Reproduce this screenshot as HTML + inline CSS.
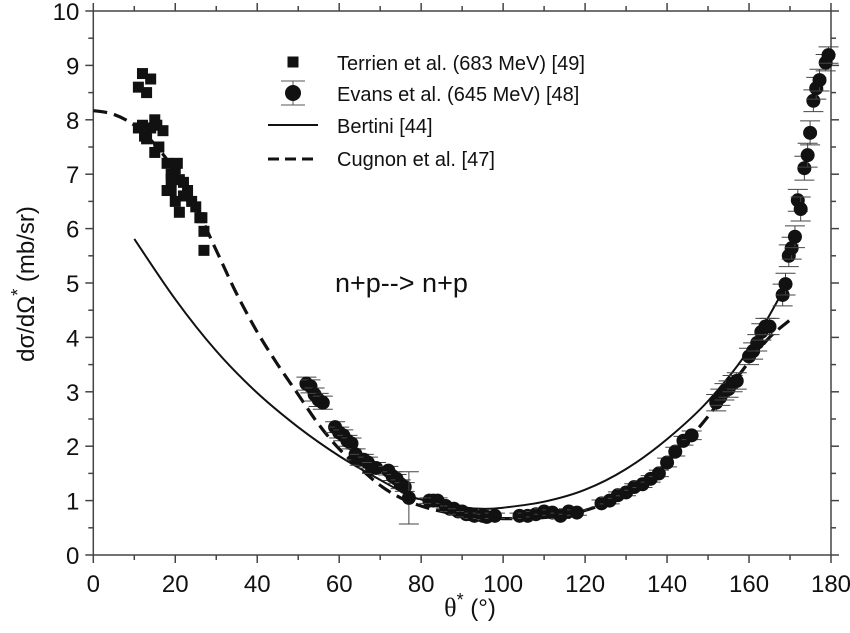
<!DOCTYPE html>
<html><head><meta charset="utf-8"><style>
body{margin:0;background:#fff;width:850px;height:628px;overflow:hidden}
svg{font-family:"Liberation Sans",sans-serif}
</style></head><body>
<svg id="chart" width="850" height="628" viewBox="0 0 850 628" xmlns="http://www.w3.org/2000/svg">
<g id="axes"></g>
<g id="curves"></g>
<g id="marks"></g>
<g font-size="20" fill="#111">
  <rect x="287.5" y="56.5" width="11" height="11" fill="#111"/>
  <text x="337" y="70">Terrien et al. (683 MeV) [49]</text>
  <line x1="293" y1="81" x2="293" y2="105" stroke="#555" stroke-width="1"/>
  <line x1="281" y1="81" x2="305" y2="81" stroke="#555" stroke-width="1"/>
  <line x1="281" y1="105" x2="305" y2="105" stroke="#555" stroke-width="1"/>
  <circle cx="293" cy="93" r="8" fill="#111"/>
  <text x="337" y="101">Evans et al. (645 MeV) [48]</text>
  <line x1="268" y1="125" x2="318" y2="125" stroke="#111" stroke-width="2"/>
  <text x="337" y="133">Bertini [44]</text>
  <line x1="268" y1="159" x2="318" y2="159" stroke="#111" stroke-width="3" stroke-dasharray="11,6"/>
  <text x="337" y="166">Cugnon et al. [47]</text>
</g>
<text x="335" y="292" font-size="27" fill="#111">n+p--&gt; n+p</text>
<text transform="translate(34,284) rotate(-90)" text-anchor="middle" font-size="24" fill="#111">dσ/dΩ<tspan dy="-10" font-size="18">*</tspan><tspan dy="10"> (mb/sr)</tspan></text>
<text x="470" y="616" text-anchor="middle" font-size="24" fill="#111"><tspan font-family="Liberation Serif,serif" font-size="26">θ</tspan><tspan dy="-10" font-size="18">*</tspan><tspan dy="10"> (°)</tspan></text>
</svg>
<script>
const xTicks=[0,20,40,60,80,100,120,140,160,180];
const yTicks=[0,1,2,3,4,5,6,7,8,9,10];
const terrienX=[11,12,13,14,11,12,12.5,13,14,15,15.5,15,16,17,18,19,19,20,20,21,20.5,21,22,23,24,25,26,27,26.5,27,18,19,22];
const terrienY=[8.6,8.85,8.5,8.75,7.85,7.9,7.7,7.65,7.85,8.0,7.9,7.4,7.5,7.8,7.2,7.0,6.7,7.1,6.5,6.3,7.2,6.9,6.85,6.7,6.5,6.4,6.2,5.95,6.2,5.6,6.7,6.9,6.6];
const evansX=[52,53,54,55,56,59,60,61,62,63,64,65,66,67,68,69,72,73,74,75,76,77,82,83,84,86,87,88,89,90,91,92,93,95,96,98,104,106,108,110,112,114,116,118,124,126,128,130,132,134,136,138,140,142,144,146,152,153,154,155,156,157,160,161,162,163,164,165,168.2,168.9,169.7,170.4,171.2,171.9,172.6,173.5,174.3,174.9,175.7,176.4,177.2,178.7,179.4];
const evansY=[3.15,3.1,2.95,2.85,2.8,2.35,2.25,2.2,2.1,2.05,1.85,1.75,1.75,1.7,1.6,1.6,1.55,1.45,1.4,1.3,1.25,1.05,1.0,1.0,1.0,0.9,0.85,0.85,0.8,0.8,0.75,0.75,0.72,0.72,0.7,0.72,0.72,0.72,0.75,0.8,0.78,0.72,0.8,0.78,0.95,1.0,1.1,1.15,1.25,1.3,1.4,1.5,1.7,1.9,2.1,2.2,2.8,2.9,3.0,3.05,3.15,3.2,3.65,3.75,3.9,4.1,4.2,4.2,4.78,4.98,5.5,5.64,5.85,6.52,6.36,7.11,7.35,7.76,8.35,8.58,8.73,9.05,9.19];
const evansErr=[0.12,0.12,0.12,0.12,0.12,0.1,0.1,0.1,0.1,0.1,0.1,0.1,0.1,0.1,0.1,0.1,0.08,0.08,0.08,0.08,0.08,0.48,0.05,0.05,0.05,0.05,0.05,0.05,0.05,0.05,0.05,0.05,0.05,0.05,0.05,0.05,0.05,0.05,0.05,0.05,0.05,0.05,0.05,0.05,0.06,0.06,0.06,0.06,0.06,0.06,0.06,0.06,0.08,0.08,0.08,0.08,0.15,0.15,0.15,0.15,0.15,0.15,0.15,0.15,0.15,0.15,0.15,0.15,0.2,0.2,0.2,0.2,0.2,0.2,0.22,0.22,0.22,0.22,0.2,0.2,0.2,0.15,0.15];
const bertiniX=[10,20,30,40,50,60,70,77,80,90,95,100,110,120,130,140,150,160,169];
const bertiniY=[5.81,4.7,3.75,2.98,2.35,1.82,1.38,1.1,1.02,0.88,0.85,0.87,0.98,1.2,1.58,2.13,2.83,3.78,4.95];
const cugnonX=[0,5,10,15,20,25,30,35,40,45,50,55,60,65,70,75,80,85,90,95,100,105,110,115,120,125,130,135,140,145,150,155,160,165,170];
const cugnonY=[8.17,8.1,7.9,7.55,7.05,6.4,5.6,4.8,4.1,3.5,2.95,2.4,1.95,1.6,1.28,1.05,0.9,0.8,0.73,0.69,0.67,0.67,0.69,0.73,0.82,0.95,1.13,1.4,1.7,2.1,2.55,3.05,3.55,4.0,4.32];

const NS="http://www.w3.org/2000/svg";
const X0=93.3,X1=831,Y0=555,Y1=11;
const xs=v=>X0+(v/180)*(X1-X0);
const ys=v=>Y0-(v/10)*(Y0-Y1);
function mk(tag,attrs,parent){const e=document.createElementNS(NS,tag);for(const k in attrs)e.setAttribute(k,attrs[k]);parent.appendChild(e);return e;}
function smooth(X,Y){
  const p=X.map((x,i)=>[xs(x),ys(Y[i])]);
  let d='M'+p[0][0].toFixed(1)+','+p[0][1].toFixed(1);
  for(let i=0;i<p.length-1;i++){
    const p0=p[Math.max(0,i-1)],p1=p[i],p2=p[i+1],p3=p[Math.min(p.length-1,i+2)];
    const c1=[p1[0]+(p2[0]-p0[0])/6,p1[1]+(p2[1]-p0[1])/6];
    const c2=[p2[0]-(p3[0]-p1[0])/6,p2[1]-(p3[1]-p1[1])/6];
    d+='C'+c1[0].toFixed(1)+','+c1[1].toFixed(1)+' '+c2[0].toFixed(1)+','+c2[1].toFixed(1)+' '+p2[0].toFixed(1)+','+p2[1].toFixed(1);
  }
  return d;
}
const axes=document.getElementById('axes');
const frame=mk('rect',{x:X0,y:Y1,width:X1-X0,height:Y0-Y1,fill:'none',stroke:'#444','stroke-width':1.5},axes);


for(let v=0;v<=180;v+=10){
  const major=v%20===0,L=major?8:5,x=xs(v);
  mk('line',{x1:x,y1:Y0,x2:x,y2:Y0+L,stroke:'#444','stroke-width':1.5},axes);
  mk('line',{x1:x,y1:Y1,x2:x,y2:Y1-L,stroke:'#444','stroke-width':1.5},axes);
}
for(let v=0;v<=10;v+=0.5){
  const major=Number.isInteger(v),L=major?8:5,y=ys(v);
  mk('line',{x1:X0,y1:y,x2:X0-L,y2:y,stroke:'#444','stroke-width':1.5},axes);
  mk('line',{x1:X1,y1:y,x2:X1+L,y2:y,stroke:'#444','stroke-width':1.5},axes);
}
xTicks.forEach(v=>{
  const t=mk('text',{x:xs(v),y:Y0+37,'text-anchor':'middle','font-size':24,fill:'#111'},axes);
  t.textContent=v;
  
  
});
yTicks.forEach(v=>{
  const t=mk('text',{x:X0-14,y:ys(v)+9,'text-anchor':'end','font-size':24,fill:'#111'},axes);
  t.textContent=v;
  
  
});
const curves=document.getElementById('curves');
const b=mk('path',{d:smooth(bertiniX,bertiniY),fill:'none',stroke:'#111','stroke-width':2},curves);


const c=mk('path',{d:smooth(cugnonX,cugnonY),fill:'none',stroke:'#111','stroke-width':3.2,'stroke-dasharray':'14,7'},curves);


const marks=document.getElementById('marks');
terrienX.forEach((x,i)=>{
  const r=mk('rect',{x:xs(x)-5.5,y:ys(terrienY[i])-5.5,width:11,height:11,fill:'#111'},marks);
  
  
});
evansX.forEach((x,i)=>{
  const cx=xs(x),cy=ys(evansY[i]),e=evansErr[i];
  const g=mk('g',{},marks);
  
  
  const yt=ys(evansY[i]+e),yb=ys(evansY[i]-e);
  mk('line',{x1:cx,y1:yt,x2:cx,y2:yb,stroke:'#444','stroke-width':1},g);
  mk('line',{x1:cx-10,y1:yt,x2:cx+10,y2:yt,stroke:'#444','stroke-width':1},g);
  mk('line',{x1:cx-10,y1:yb,x2:cx+10,y2:yb,stroke:'#444','stroke-width':1},g);
  mk('circle',{cx:cx,cy:cy,r:7,fill:'#111'},g);
});
</script>
</body></html>
